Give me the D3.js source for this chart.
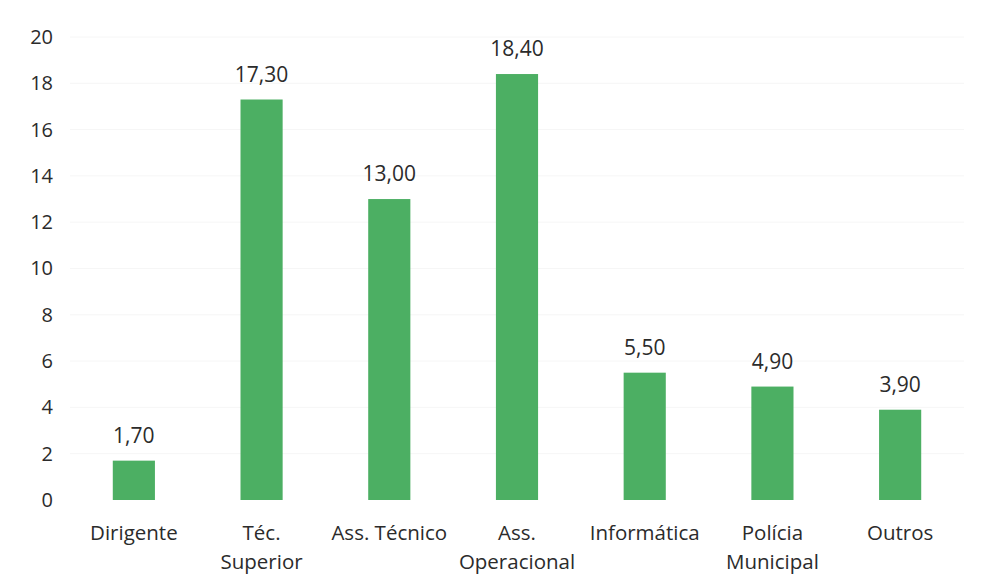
<!DOCTYPE html>
<html><head><meta charset="utf-8">
<script src="https://cdn.jsdelivr.net/npm/d3@7"></script>
<style>body{margin:0;background:#fff}svg{display:block}text{font-family:"Open Sans",Lato,sans-serif;fill:#2b2b2b}</style>
</head><body><svg id="c" width="982" height="585"></svg>
<script>
const categories = [["Dirigente"],["Téc.","Superior"],["Ass. Técnico"],["Ass.","Operacional"],["Informática"],["Polícia","Municipal"],["Outros"]];
const values = [1.70, 17.30, 13.00, 18.40, 5.50, 4.90, 3.90];
const yTicks = [0,2,4,6,8,10,12,14,16,18,20];

const svg = d3.select("#c");
const x = d3.scaleBand().domain(d3.range(values.length)).range([70,964]).paddingInner(0.67).paddingOuter(0.335);
const y = d3.scaleLinear().domain([0,20]).range([500,37]);

svg.append("g").selectAll("line").data(yTicks.slice(1)).join("line")
  .attr("x1",70).attr("x2",964).attr("y1",d=>y(d)).attr("y2",d=>y(d))
  .attr("stroke","#f6f6f6").attr("stroke-width",1);

const yAxis = svg.append("g").attr("transform","translate(53,0)")
  .call(d3.axisLeft(y).tickValues(yTicks).tickSize(0).tickPadding(0));
yAxis.select(".domain").remove();
yAxis.selectAll("text").style("font-size","20px").style("font-family","'Open Sans', sans-serif").attr("fill","#2b2b2b");

svg.append("g").selectAll("rect").data(values).join("rect")
  .attr("x",(d,i)=>x(i)).attr("width",x.bandwidth())
  .attr("y",d=>y(d)).attr("height",d=>y(0)-y(d)).attr("fill","#4caf63");

svg.append("g").selectAll("text").data(values).join("text")
  .attr("x",(d,i)=>x(i)+x.bandwidth()/2).attr("y",d=>y(d)-18)
  .attr("text-anchor","middle").style("font-size","21px")
  .text(d=>d.toFixed(2).replace(".",","));

const cat = svg.append("g").selectAll("text").data(categories).join("text")
  .attr("x",(d,i)=>x(i)+x.bandwidth()/2).attr("y",540)
  .attr("text-anchor","middle").style("font-size","20.5px");
cat.selectAll("tspan").data(d=>d).join("tspan")
  .attr("x",function(){return this.parentNode.getAttribute("x");})
  .attr("dy",(d,i)=>i?29:0).text(d=>d);
</script></body></html>
